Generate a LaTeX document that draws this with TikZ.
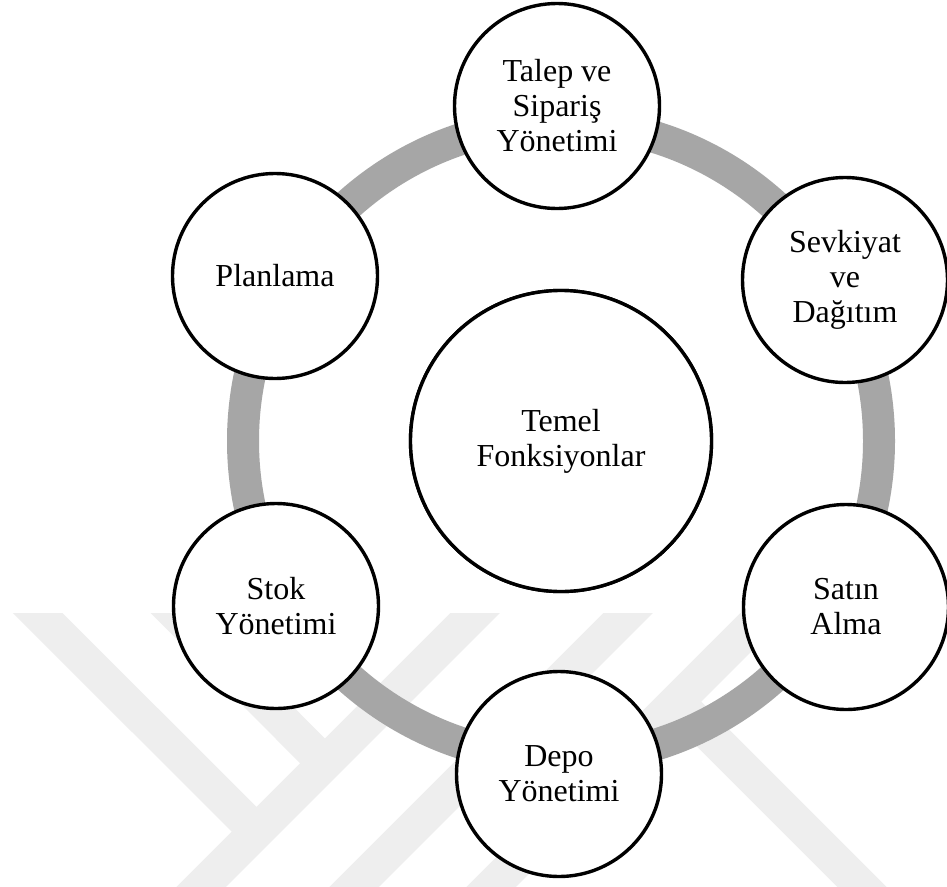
\documentclass[tikz,border=0pt]{standalone}
\usepackage{fontspec}
\setmainfont{Liberation Serif}
\definecolor{ringgray}{HTML}{A6A6A6}
\definecolor{wmgray}{HTML}{EEEEEE}
\begin{document}
\begin{tikzpicture}[x=1pt,y=-1pt,
  stage/.style={circle, draw=black, line width=3.4pt, fill=white,
    inner sep=0pt, minimum size=205pt, align=center,
    font=\fontsize{32}{35}\selectfont},
  hubnode/.style={stage, minimum size=301pt},
  ring/.style={draw=ringgray, line width=32pt},
  wmstripe/.style={draw=wmgray, line width=35pt}
]
\fill[white] (0,0) rectangle (947,886);
\useasboundingbox (0,0) rectangle (947,886);

% faint background emblem
\begin{scope}
  \clip (0,613) rectangle (947,886);
  \draw[wmstripe] (498,590) -- (180,908);
  \draw[wmstripe] (14.5,590) -- (266.5,841.5);
  \draw[wmstripe] (152.5,590) -- (334.75,773.25);
  \draw[wmstripe] (651,590) -- (333,908);
  \draw[wmstripe] (788,590) -- (470,908);
  \draw[wmstripe] (676.5,701.5) -- (900,925);
\end{scope}

% hub and surrounding stages
\node[hubnode] (hub) at (561,441) {Temel\\Fonksiyonlar};
\draw[ring] (hub.center) circle[radius=318];
\node[hubnode] at (hub.center) {Temel\\Fonksiyonlar};

\node[stage] (talep)  at (557,106) {Talep ve\\Sipariş\\Yönetimi};
\node[stage] (sevk)   at (845,280) {Sevkiyat\\ve\\Dağıtım};
\node[stage] (satin)  at (846,607) {Satın\\Alma};
\node[stage] (depo)   at (559,774) {Depo\\Yönetimi};
\node[stage] (stok)   at (276,606) {Stok\\Yönetimi};
\node[stage] (plan)   at (275,276) {Planlama};
\end{tikzpicture}
\end{document}
